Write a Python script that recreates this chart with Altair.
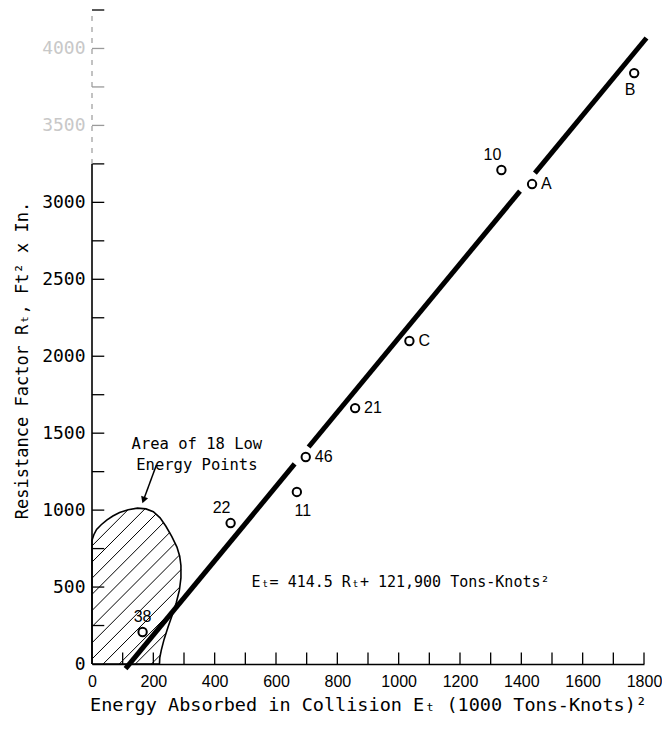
import altair as alt
import pandas as pd

# ---------------- data ----------------
pt_labels = ["B", "A", "10", "C", "21", "46", "11", "22", "38"]
pt_energy = [1768, 1435, 1335, 1035, 858, 697, 668, 452, 165]
pt_resist = [3840, 3119, 3210, 2099, 1663, 1345, 1118, 916, 208]
pt_place = ["below_l", "right", "above_l", "right", "right", "right", "below_r", "above_l", "above"]

# fitted line  E_T = 414.5 R_T + 121,900  (E in 1000 Tons-Knots^2)
fit_slope = 0.4145
fit_intercept = 121.9
line_r_start = [-30, 1410, 3190]
line_r_end = [1300, 3073, 4068]

# outline of "Area of 18 Low Energy Points"
area_e = [0, 0, 6, 15, 30, 48, 68, 90, 118, 148, 176, 200, 222, 241, 260, 277, 286, 290, 290, 285, 275, 262, 248, 235, 226, 221, 220, 0]
area_r = [0, 805, 840, 875, 905, 935, 962, 985, 1003, 1013, 1008, 990, 950, 895, 830, 760, 700, 640, 560, 480, 400, 320, 240, 160, 90, 40, 0, 0]

annot_text = ["Area of 18 Low", "Energy Points"]
annot_e = 342
annot_r = 1430
arrow_e = [210, 168]
arrow_r = [1293, 1065]

eq_text = "Eₜ= 414.5 Rₜ+ 121,900 Tons-Knots²"
eq_e = 1006
eq_r = 533

x_label_vals = list(range(0, 1801, 200))
x_tick_vals = list(range(100, 1801, 100))
y_label_vals = list(range(0, 4001, 500))
y_tick_vals = list(range(250, 4251, 250))

x_title = "Energy Absorbed in Collision Eₜ (1000 Tons-Knots)²"
y_title = "Resistance Factor Rₜ, Ft² x In."

# ---------------- derived tables ----------------
pts = pd.DataFrame({"E": pt_energy, "R": pt_resist, "label": pt_labels, "place": pt_place})

segs = pd.DataFrame({
    "R": line_r_start, "R2": line_r_end,
    "E": [fit_slope * r + fit_intercept for r in line_r_start],
    "E2": [fit_slope * r + fit_intercept for r in line_r_end],
})

outline = pd.DataFrame({"E": area_e, "R": area_r, "i": list(range(len(area_e)))})

# hatch lines R = s*E + k clipped to the outline polygon
hatch_s = 2.0
hatch_step = 105
rows = []
k = -440 + hatch_step / 2
while k < 1013:
    xs_hit = []
    for j in range(len(area_e) - 1):
        e1, r1, e2, r2 = area_e[j], area_r[j], area_e[j + 1], area_r[j + 1]
        f1 = r1 - hatch_s * e1 - k
        f2 = r2 - hatch_s * e2 - k
        if (f1 > 0) != (f2 > 0):
            t = f1 / (f1 - f2)
            xs_hit.append(e1 + t * (e2 - e1))
    xs_hit.sort()
    for a in range(0, len(xs_hit) - 1, 2):
        ea, eb = xs_hit[a], xs_hit[a + 1]
        rows.append({"E": ea, "R": hatch_s * ea + k, "E2": eb, "R2": hatch_s * eb + k})
    k += hatch_step
hatch = pd.DataFrame(rows)

xticks = pd.DataFrame({"E": x_tick_vals, "R": 0, "R2": 75})
yticks = pd.DataFrame({"R": y_tick_vals, "E": 0, "E2": 40,
                       "faint": [v in (3500, 3750, 4000) for v in y_tick_vals]})
yaxis_line = pd.DataFrame({"E": [0, 0], "R": [0, 3250], "R2": [3250, 4250], "faint": [False, True]})

XS = alt.Scale(domain=[0, 1800], nice=False, zero=False)
YS = alt.Scale(domain=[0, 4250], nice=False, zero=False)
MONO = "DejaVu Sans Mono"
SANS = "Liberation Sans"

x_axis = alt.Axis(values=x_label_vals, ticks=False, grid=False, domainColor="black", domainWidth=1.5,
                  labelFont=SANS, labelFontSize=16, labelColor="black", labelPadding=9, labelFlush=False,
                  labelOverlap=False,
                  title=x_title, titleFont=MONO, titleFontSize=18.5, titleFontWeight="normal",
                  titleColor="black", titlePadding=6, format="d")
y_axis = alt.Axis(values=y_label_vals, ticks=False, grid=False, domain=False,
                  labelFont=MONO, labelFontSize=18, labelPadding=7, labelFlush=False, labelOverlap=False,
                  labelColor=alt.condition(alt.datum.value >= 3500, alt.value("#c8c8c8"), alt.value("black")),
                  title=y_title, titleFont=MONO, titleFontSize=17, titleFontWeight="normal",
                  titleColor="black", titlePadding=10, titleY=350, format="d")

X = alt.X("E:Q", scale=XS, axis=x_axis, title=x_title)
Y = alt.Y("R:Q", scale=YS, axis=y_axis, title=y_title)

points = alt.Chart(pts).mark_point(shape="circle", size=70, filled=False, strokeWidth=2, color="black", opacity=1).encode(
    x=X, y=Y,
)

places = {
    "right": dict(align="left", dx=9, dy=0),
    "below_l": dict(align="center", dx=-4, dy=17),
    "below_r": dict(align="center", dx=6, dy=19),
    "above_l": dict(align="center", dx=-9, dy=-15),
    "above": dict(align="center", dx=0, dy=-15),
}
label_layers = []
for name, st in places.items():
    label_layers.append(
        alt.Chart(pts).transform_filter(alt.datum.place == name).mark_text(
            font=SANS, fontSize=16, color="black", baseline="middle", **st
        ).encode(x=X, y=Y, text="label:N")
    )

fit_line = alt.Chart(segs).mark_rule(color="black", strokeWidth=5, strokeCap="butt").encode(
    x=X, y=Y, x2="E2:Q", y2="R2:Q",
)

hatch_layer = alt.Chart(hatch).mark_rule(color="black", strokeWidth=1).encode(
    x=X, y=Y, x2="E2:Q", y2="R2:Q",
)

outline_layer = alt.Chart(outline).mark_line(color="black", strokeWidth=1.6).encode(
    x=X, y=Y, order="i:Q",
)

xtick_layer = alt.Chart(xticks).mark_rule(color="black", strokeWidth=1.3).encode(
    x=X, y=Y, y2="R2:Q",
)
ytick_layer = alt.Chart(yticks).mark_rule(strokeWidth=1.3).encode(
    x=X, x2="E2:Q", y=Y,
    color=alt.condition(alt.datum.faint, alt.value("#9a9a9a"), alt.value("black")),
)
yline_solid = alt.Chart(yaxis_line).transform_filter(~alt.datum.faint).mark_rule(color="black", strokeWidth=1.6).encode(
    x=X, y=Y, y2="R2:Q",
)
yline_faint = alt.Chart(yaxis_line).transform_filter(alt.datum.faint).mark_rule(color="#9a9a9a", strokeWidth=1.2, strokeDash=[5, 6]).encode(
    x=X, y=Y, y2="R2:Q",
)

annot = alt.Chart(pd.DataFrame({"E": [annot_e], "R": [annot_r], "t": ["\n".join(annot_text)]})).mark_text(
    font=MONO, fontSize=15.5, color="black", align="center", baseline="middle", lineBreak="\n", lineHeight=21,
).encode(x=X, y=Y, text="t:N")

arrow_df = pd.DataFrame({"E": arrow_e, "R": arrow_r, "i": [0, 1]})
arrow_shaft = alt.Chart(arrow_df).mark_line(color="black", strokeWidth=1.5).encode(
    x=X, y=Y, order="i:Q",
)
arrow_head = alt.Chart(arrow_df.iloc[[1]]).mark_point(shape="triangle-down", filled=True, size=55, color="black", angle=20, opacity=1).encode(
    x=X, y=Y,
)

eq = alt.Chart(pd.DataFrame({"E": [eq_e], "R": [eq_r], "t": [eq_text]})).mark_text(
    font=MONO, fontSize=15, color="black", align="center", baseline="middle",
).encode(x=X, y=Y, text="t:N")

chart = alt.layer(
    points, hatch_layer, outline_layer, fit_line, xtick_layer, ytick_layer, yline_solid, yline_faint,
    annot, arrow_shaft, arrow_head, eq, *label_layers,
).properties(
    width=552, height=654,
    autosize=alt.AutoSizeParams(type="none"),
    padding={"left": 84, "top": 2, "right": 18, "bottom": 58},
).configure_view(stroke=None)

chart.save("out.html", embed_options={"renderer": "svg", "actions": False})
